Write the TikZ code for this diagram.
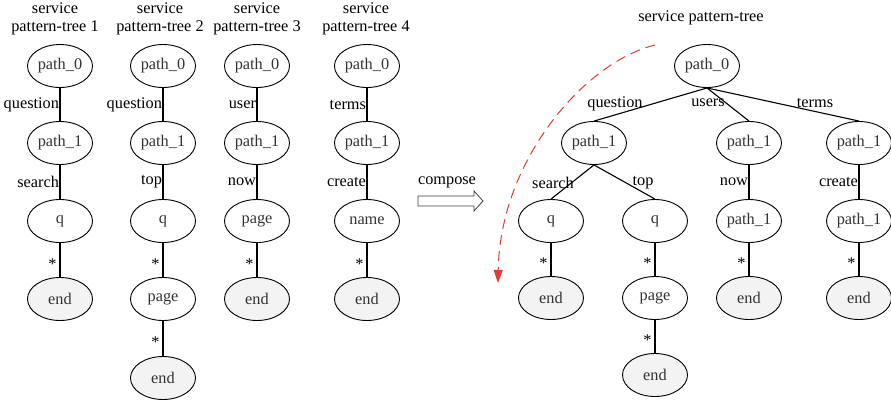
\documentclass[tikz,border=0pt]{standalone}
\usepackage{fontspec}
\setmainfont{Liberation Serif}
\usetikzlibrary{shapes.geometric,arrows.meta}
\definecolor{endfill}{HTML}{F3F3F3}
\definecolor{dashred}{HTML}{E03C31}
\begin{document}
\begin{tikzpicture}[x=1pt,y=-1pt,
  every node/.style={font=\fontsize{16.3}{18}\selectfont},
  pnode/.style={ellipse, draw, line width=0.9pt, minimum width=65pt, minimum height=43pt, inner sep=0pt, text=black!80},
  endnode/.style={pnode, fill=endfill},
  eline/.style={line width=1.1pt},
  lbl/.style={inner sep=0pt, text=black},
  vl/.style={lbl, anchor=east, xshift=-0.5pt},
  star/.style={lbl, anchor=east, xshift=-3pt, yshift=-4pt},
  ttl/.style={align=center, inner sep=0pt}
]
\path[use as bounding box] (0,0) rectangle (891,400);

% ---------- tree 1 ----------
\node[ttl] (t1) at (55,19) {service\\pattern-tree 1};
\node[pnode] (a0) at (60,66) {path\_0};
\node[pnode] (a1) at (60,143) {path\_1};
\node[pnode] (a2) at (60,221) {q};
\node[endnode] (a3) at (60,299) {end};
\draw[eline] (a0) -- node[vl]{question} (a1);
\draw[eline] (a1) -- node[vl]{search} (a2);
\draw[eline] (a2) -- node[star]{*} (a3);

% ---------- tree 2 ----------
\node[ttl] (t2) at (160,19) {service\\pattern-tree 2};
\node[pnode] (b0) at (163,66) {path\_0};
\node[pnode] (b1) at (163,143) {path\_1};
\node[pnode] (b2) at (163,221) {q};
\node[pnode] (b3) at (163,299) {page};
\node[endnode] (b4) at (163,378) {end};
\draw[eline] (b0) -- node[vl]{question} (b1);
\draw[eline] (b1) -- node[vl]{top} (b2);
\draw[eline] (b2) -- node[star]{*} (b3);
\draw[eline] (b3) -- node[star]{*} (b4);

% ---------- tree 3 ----------
\node[ttl] (t3) at (257,19) {service\\pattern-tree 3};
\node[pnode] (c0) at (257,66) {path\_0};
\node[pnode] (c1) at (257,143) {path\_1};
\node[pnode] (c2) at (257,221) {page};
\node[endnode] (c3) at (257,299) {end};
\draw[eline] (c0) -- node[vl]{user} (c1);
\draw[eline] (c1) -- node[vl]{now} (c2);
\draw[eline] (c2) -- node[star]{*} (c3);

% ---------- tree 4 ----------
\node[ttl] (t4) at (366,19) {service\\pattern-tree 4};
\node[pnode] (d0) at (367,66) {path\_0};
\node[pnode] (d1) at (367,143) {path\_1};
\node[pnode] (d2) at (367,221) {name};
\node[endnode] (d3) at (367,299) {end};
\draw[eline] (d0) -- node[vl]{terms} (d1);
\draw[eline] (d1) -- node[vl]{create} (d2);
\draw[eline] (d2) -- node[star]{*} (d3);

% ---------- compose arrow ----------
\node[lbl] (comp) at (447,182) {compose};
\draw[line width=0.8pt, draw=black!75, fill=white]
  (418,196) -- (474,196) -- (474,191) -- (483,201) -- (474,211) -- (474,206) -- (418,206) -- cycle;

% ---------- red dashed arc ----------
\coordinate (arcs) at (655,45);
\coordinate (arce) at (498,283);
\draw[dashred, line width=1pt, dash pattern=on 10pt off 6pt,
  -{Triangle[length=13pt,width=9pt]}]
  (arcs) .. controls (585,62) and (500,160) .. (arce);

% ---------- composed tree ----------
\node[lbl] (rt) at (701,18) {service pattern-tree};
\node[pnode] (r0) at (707,66) {path\_0};
\node[pnode] (r1) at (594,143) {path\_1};
\node[pnode] (r2) at (749,143) {path\_1};
\node[pnode] (r3) at (859,143) {path\_1};
\node[pnode] (q1) at (551,221) {q};
\node[pnode] (q2) at (655,221) {q};
\node[pnode] (u2) at (749,221) {path\_1};
\node[pnode] (u3) at (859,221) {path\_1};
\node[endnode] (e1) at (551,298) {end};
\node[pnode] (pg) at (655,298) {page};
\node[endnode] (e3) at (749,298) {end};
\node[endnode] (e4) at (859,298) {end};
\node[endnode] (e2) at (655,375) {end};

\draw[eline] (r0.south) -- (r1.north);
\draw[eline] (r0.south) -- (r2.north);
\draw[eline] (r0.south) -- (r3.north);
\draw[eline] (r1.south) -- (q1.north);
\draw[eline] (r1.south) -- (q2.north);
\draw[eline] (r2) -- node[vl]{now} (u2);
\draw[eline] (r3) -- node[vl]{create} (u3);
\draw[eline] (q1) -- node[star]{*} (e1);
\draw[eline] (q2) -- node[star]{*} (pg);
\draw[eline] (pg) -- node[star]{*} (e2);
\draw[eline] (u2) -- node[star]{*} (e3);
\draw[eline] (u3) -- node[star]{*} (e4);

\node[lbl] (lq) at (615,104) {question};
\node[lbl] (lu) at (708,103) {users};
\node[lbl] (lt) at (815,103) {terms};
\node[lbl] (ls) at (553,183) {search};
\node[lbl] (ltop) at (643,183) {top};
\end{tikzpicture}
\end{document}
